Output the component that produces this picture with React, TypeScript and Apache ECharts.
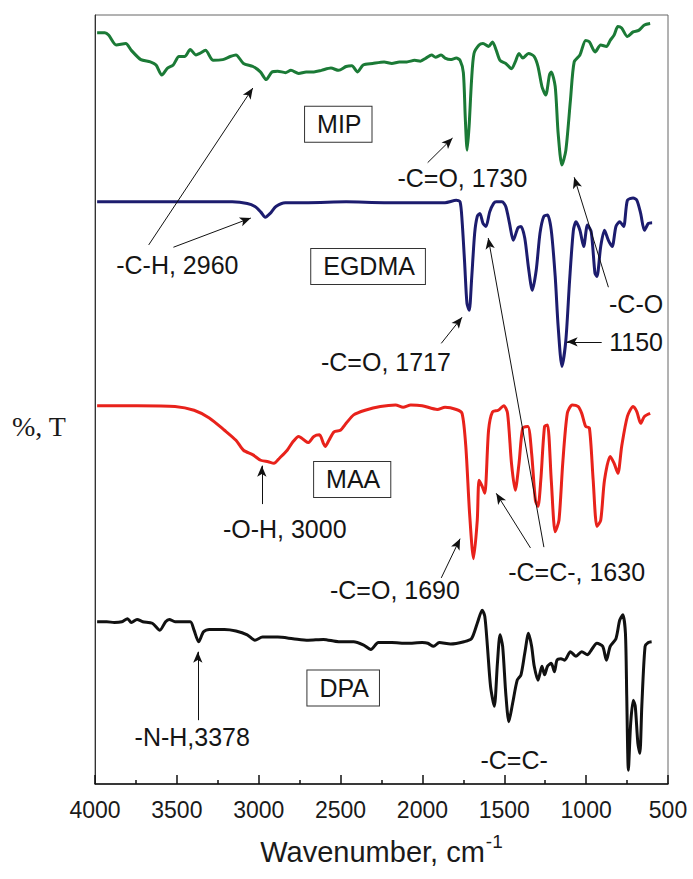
import React, { useEffect, useRef } from "react";
import * as echarts from "echarts";

// Wavenumbers (cm-1) and transmittance (arbitrary %T, spectra offset for display)
const mipWn = [3987,3940,3917,3870,3812,3778,3720,3662,3627,3592,3557,3522,3487,3453,3418,3383,3360,3325,3278,3220,3174,3139,3093,3035,2990,2954,2919,2884,2837,2803,2756,2710,2663,2617,2559,2512,2466,2431,2396,2362,2304,2234,2187,2141,2095,2048,2013,1978,1944,1920,1886,1862,1828,1793,1770,1750,1738,1727,1715,1700,1685,1654,1630,1596,1572,1549,1526,1491,1456,1433,1410,1387,1352,1317,1294,1270,1247,1224,1213,1189,1171,1148,1124,1096,1073,1038,1003,980,945,911,876,853,829,806,783,748,713,679,644,609];
const mipT = [97.7,97.7,97.4,96.1,96.3,95.4,94.2,93.9,93.5,92.2,93.1,93.5,94.6,94.6,95.5,94.8,95.0,95.4,94.1,94.2,94.6,94.8,93.7,93.3,92.6,91.6,92.6,92.7,92.5,92.8,92.4,92.6,92.6,92.8,93.1,92.8,93.3,93.4,92.6,93.5,93.7,93.9,93.7,93.9,93.9,94.1,94.0,94.4,94.8,94.5,94.8,94.4,94.2,94.4,94.1,92.5,86.5,82.4,85.5,91.5,95.0,96.1,96.3,95.9,96.5,95.4,94.1,93.7,93.0,93.9,95.0,94.4,95.0,94.6,93.3,90.7,89.6,92.2,92.6,90.7,84.6,80.5,82.4,88.9,93.9,94.8,96.7,96.5,95.2,96.1,95.9,96.7,97.4,98.5,98.3,97.2,97.8,98.0,98.7,98.9];

const egdmaWn = [3987,3627,3162,3070,3023,2988,2960,2930,2895,2837,2698,2466,2234,2002,1862,1793,1770,1758,1742,1728,1714,1700,1681,1665,1649,1630,1612,1589,1565,1549,1514,1491,1468,1445,1417,1398,1375,1352,1329,1305,1282,1259,1236,1213,1189,1171,1148,1124,1101,1078,1062,1038,1015,992,969,946,934,911,888,864,841,818,795,771,748,713,690,667,644,620,597];
const egdmaT = [75.7,75.7,75.7,75.5,75.1,74.4,73.7,74.2,75.1,75.6,75.6,75.7,75.6,75.6,75.6,75.9,75.7,73.3,67.7,62.5,61.6,65.5,71.6,73.8,74.2,72.9,72.5,74.4,75.5,75.7,75.7,75.1,72.9,70.7,72.3,72.5,71.0,67.1,64.2,66.8,71.6,73.8,74.0,72.0,66.0,59.5,54.3,57.7,65.5,72.0,73.1,72.0,69.9,72.7,71.8,66.4,66.0,69.9,72.0,70.7,69.9,72.5,73.1,72.5,75.9,76.2,75.9,74.2,72.0,72.9,73.0];

const maaWn = [3987,3743,3511,3395,3302,3209,3139,3093,3035,2988,2942,2907,2872,2826,2791,2756,2721,2698,2663,2629,2605,2594,2571,2540,2501,2466,2420,2350,2257,2164,2118,2071,2002,1909,1862,1793,1758,1735,1712,1688,1665,1654,1635,1619,1596,1572,1537,1503,1480,1456,1433,1410,1387,1356,1333,1310,1294,1277,1254,1236,1213,1189,1166,1143,1115,1085,1050,1027,1003,980,957,934,911,888,853,829,806,783,748,713,690,667,644,609];
const maaT = [49.2,49.2,49.1,48.6,47.6,46.0,44.7,43.4,42.8,42.1,41.9,41.7,42.4,43.4,44.5,45.2,44.7,44.4,45.2,45.4,44.3,43.9,44.7,45.8,46.0,46.9,48.0,48.6,49.1,49.3,49.0,49.3,49.2,48.7,49.0,48.7,48.2,43.9,35.2,29.3,34.3,39.5,38.7,37.8,46.0,48.4,48.6,49.2,48.2,41.7,38.2,41.7,46.3,46.5,43.0,36.9,36.1,39.5,46.5,46.7,39.5,32.8,34.3,41.7,48.2,49.3,49.1,48.2,46.5,46.3,39.5,33.5,34.3,39.5,42.6,41.7,40.4,43.9,47.8,49.1,48.4,46.9,47.8,48.2];

const dpaWn = [3987,3928,3882,3836,3801,3778,3743,3708,3650,3604,3569,3546,3511,3418,3395,3367,3337,3302,3209,3139,3070,3023,2977,2884,2791,2698,2605,2512,2420,2362,2315,2269,2187,2095,2002,1967,1932,1897,1828,1746,1700,1665,1635,1619,1603,1584,1561,1542,1526,1510,1491,1472,1449,1421,1398,1375,1352,1333,1317,1294,1270,1254,1236,1213,1194,1178,1154,1131,1096,1062,1027,992,969,934,899,876,853,818,795,776,760,752,742,728,712,700,684,672,660,640,620,600];
const dpaT = [21.1,21.1,21.0,21.1,21.5,21.0,21.4,21.1,20.9,20.0,21.1,21.4,21.1,21.1,20.0,18.5,19.8,20.1,20.1,19.9,19.4,18.7,19.1,19.1,18.9,18.7,18.8,18.5,18.5,18.1,17.5,18.4,18.4,18.3,18.4,18.3,17.9,18.4,18.2,18.5,18.9,20.9,22.6,21.8,17.9,12.7,10.1,15.7,19.4,17.9,11.8,8.1,10.5,13.5,14.2,17.0,19.6,17.9,15.3,13.5,15.3,14.2,15.3,15.7,14.6,16.1,16.3,16.1,17.2,16.6,17.2,16.8,17.4,18.3,17.9,16.1,17.9,18.9,21.3,22.0,19.6,11.4,1.8,7.9,10.9,10.1,5.3,4.0,10.1,17.9,18.4,18.5];

const seriesNames = ["MIP", "EGDMA", "MAA", "DPA"];
const seriesColors = ["#1b7a36", "#1c1c6e", "#e8221b", "#111111"];
const xTicks = [4000, 3500, 3000, 2500, 2000, 1500, 1000, 500];

// sample name boxes: [name, wavenumber, T]
const boxLabels: [string, number, number][] = [
  ["MIP", 2514, 85.8],
  ["EGDMA", 2332, 67.3],
  ["MAA", 2429, 39.6],
  ["DPA", 2484, 12.5],
];
// band assignments: [text, wavenumber, T]
const bandLabels: [string, number, number][] = [
  ["-C=O, 1730", 1756, 78.8],
  ["-C-H, 2960", 3497, 67.5],
  ["-C=O, 1717", 2223, 54.9],
  ["-C-O", 695, 62.4],
  ["1150", 695, 57.5],
  ["-O-H, 3000", 2841, 33.2],
  ["-C=C-, 1630", 1058, 27.6],
  ["-C=O, 1690", 2168, 25.2],
  ["-N-H,3378", 3406, 6.1],
  ["-C=C-", 1440, 3.1],
];
// arrows: [tailWn, tailT, tipWn, tipT]
const arrows: [number, number, number, number][] = [
  [1968, 80.8, 1816, 84.0],
  [3672, 70.1, 3036, 90.5],
  [3521, 69.8, 3048, 73.6],
  [1885, 57.3, 1758, 60.7],
  [864, 64.6, 1073, 78.9],
  [905, 57.5, 1119, 57.5],
  [2981, 36.4, 2981, 41.4],
  [1340, 30.7, 1549, 37.8],
  [1258, 30.8, 1598, 71.0],
  [1885, 26.8, 1770, 31.9],
  [3372, 8.3, 3372, 17.2],
];

const FONT = "'Liberation Sans', Arial, sans-serif";

function zip(a: number[], b: number[]) {
  const n = Math.min(a.length, b.length);
  const out: number[][] = [];
  for (let i = 0; i < n; i++) out.push([a[i], b[i]]);
  return out;
}

export default function App() {
  const ref = useRef<HTMLDivElement>(null);
  useEffect(() => {
    if (!ref.current) return;
    const chart = echarts.init(ref.current, undefined, { renderer: "svg" });
    const datasets = [zip(mipWn, mipT), zip(egdmaWn, egdmaT), zip(maaWn, maaT), zip(dpaWn, dpaT)];
    const series: any[] = datasets.map((d, i) => ({
      name: seriesNames[i],
      type: "line",
      data: d,
      showSymbol: false,
      smooth: 0.25,
      lineStyle: { color: seriesColors[i], width: 3 },
      itemStyle: { color: seriesColors[i] },
      z: 2,
    }));
    series.push({
      name: "annotations",
      type: "line",
      data: [],
      silent: true,
      z: 5,
      markLine: {
        silent: true,
        symbol: ["none", "arrow"],
        symbolSize: [7, 11],
        label: { show: false },
        lineStyle: { color: "#111", width: 1, type: "solid" },
        data: arrows.map((a) => [{ coord: [a[0], a[1]] }, { coord: [a[2], a[3]] }]),
      },
      markPoint: {
        silent: true,
        symbol: "rect",
        symbolSize: 0,
        data: [
          ...boxLabels.map((b) => ({
            name: b[0],
            coord: [b[1], b[2]],
            label: {
              show: true,
              position: "inside",
              formatter: "{b}",
              fontFamily: FONT,
              fontSize: 25,
              color: "#151515",
              borderColor: "#333",
              borderWidth: 1,
              padding: [6, 10, 4, 12],
              backgroundColor: "#fff",
            },
          })),
          ...bandLabels.map((b) => ({
            name: b[0],
            coord: [b[1], b[2]],
            label: {
              show: true,
              position: "inside",
              formatter: "{b}",
              fontFamily: FONT,
              fontSize: 25,
              color: "#151515",
            },
          })),
        ],
      },
    });
    chart.setOption({
      animation: false,
      backgroundColor: "#ffffff",
      grid: {
        left: 95,
        right: 25,
        top: 15,
        bottom: 95,
        show: true,
        borderColor: "#666",
        borderWidth: 1,
      },
      graphic: [
        {
          type: "text",
          left: 12,
          top: 412,
          style: {
            text: "%, T",
            font: "28px 'Liberation Serif', 'Times New Roman', serif",
            fill: "#1a1a1a",
          },
        },
      ],
      xAxis: {
        type: "value",
        inverse: true,
        min: 500,
        max: 4000,
        interval: 500,
        axisLine: { show: true, onZero: false, lineStyle: { color: "#111", width: 1.5 } },
        axisTick: { show: true, inside: true, length: 9, lineStyle: { color: "#111", width: 1.5 } },
        minorTick: { show: true, splitNumber: 2, length: 4, lineStyle: { color: "#111", width: 1.5 } },
        splitLine: { show: false },
        axisLabel: {
          margin: 14,
          fontFamily: FONT,
          fontSize: 23,
          color: "#1a1a1a",
          formatter: (v: number) => (xTicks.includes(v) ? String(v) : ""),
        },
        name: "{a|Wavenumber, cm}{b|-1}",
        nameLocation: "middle",
        nameGap: 48,
        nameTextStyle: {
          rich: {
            a: { fontFamily: FONT, fontSize: 29, color: "#1a1a1a", verticalAlign: "bottom" },
            b: { fontFamily: FONT, fontSize: 19, color: "#1a1a1a", verticalAlign: "bottom", padding: [0, 0, 15, 1] },
          },
        },
      },
      yAxis: {
        type: "value",
        min: 0,
        max: 100,
        axisLine: { show: true, lineStyle: { color: "#333", width: 1 } },
        axisTick: { show: false },
        axisLabel: { show: false },
        splitLine: { show: false },
      },
      series,
    });
    return () => chart.dispose();
  }, []);
  return (
    <div
      ref={ref}
      style={{ position: "absolute", left: 0, top: 0, width: 693, height: 879, background: "#fff" }}
    />
  );
}
